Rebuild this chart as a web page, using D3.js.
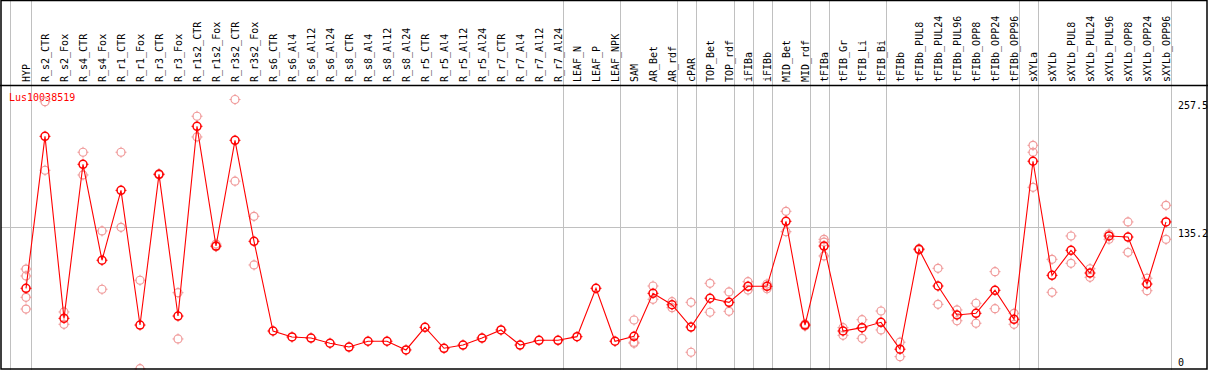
<!DOCTYPE html>
<html>
<head>
<meta charset="utf-8">
<script src="https://cdnjs.cloudflare.com/ajax/libs/d3/7.8.5/d3.min.js"></script>
<style>
  body { margin: 0; background: #fff; }
  text { font-family: "DejaVu Sans Mono", monospace; }
</style>
</head>
<body>
<div class="canvas"></div>
<script>
// gene / samples
const gene = 'Lus10038519';

const categories = [
  'HYP', 'R_s2_CTR', 'R_s2_Fox', 'R_s4_CTR', 'R_s4_Fox', 'R_r1_CTR', 'R_r1_Fox',
  'R_r3_CTR', 'R_r3_Fox', 'R_r1s2_CTR', 'R_r1s2_Fox', 'R_r3s2_CTR', 'R_r3s2_Fox',
  'R_s6_CTR', 'R_s6_Al4', 'R_s6_Al12', 'R_s6_Al24', 'R_s8_CTR', 'R_s8_Al4', 'R_s8_Al12',
  'R_s8_Al24', 'R_r5_CTR', 'R_r5_Al4', 'R_r5_Al12', 'R_r5_Al24', 'R_r7_CTR', 'R_r7_Al4',
  'R_r7_Al12', 'R_r7_Al24', 'LEAF_N', 'LEAF_P', 'LEAF_NPK', 'SAM', 'AR_Bet', 'AR_rdf',
  'cPAR', 'TOP_Bet', 'TOP_rdf', 'iFIBa', 'iFIBb', 'MID_Bet', 'MID_rdf', 'tFIBa',
  'tFIB_Gr', 'tFIB_Li', 'tFIB_Bi', 'tFIBb', 'tFIBb_PUL8', 'tFIBb_PUL24', 'tFIBb_PUL96',
  'tFIBb_OPP8', 'tFIBb_OPP24', 'tFIBb_OPP96', 'sXYLa', 'sXYLb', 'sXYLb_PUL8',
  'sXYLb_PUL24', 'sXYLb_PUL96', 'sXYLb_OPP8', 'sXYLb_OPP24', 'sXYLb_OPP96'
];

// mean expression per sample
const means = [
  77.1, 222.3, 48.4, 195.6, 103.9, 170.7, 42.0,
  186.0, 50.6, 231.9, 117.5, 218.5, 122.0,
  36.3, 30.6, 29.6, 24.6, 21.0, 26.5, 26.5,
  18.2, 39.8, 19.8, 22.9, 29.6, 37.3, 22.9,
  27.4, 27.4, 30.9, 77.1, 26.5, 31.2, 72.3, 61.4,
  40.1, 67.6, 63.7, 79.0, 79.0, 141.1, 42.0, 117.5,
  36.3, 39.5, 44.6, 18.9, 114.4, 79.3, 51.6,
  53.2, 75.2, 47.5, 198.5, 89.5, 113.4,
  91.7, 127.1, 126.1, 81.2, 140.5
];

// replicate values per sample
const replicates = [
  [95.5, 88.9, 68.5, 57.3], [255.4, 189.9], [54.5, 42.7], [207.1, 185.4], [131.9, 76.2],
  [207.1, 135.4], [84.8, 0.3],
  [186.5, 185.5], [72.9, 28.7], [241.5, 221.7], [119.4, 116.9], [257.5, 179.5], [145.9, 99.4],
  [], [], [], [], [], [], [],
  [], [], [], [], [], [], [],
  [], [], [], [], [], [46.8, 25.5, 24.6], [79.3, 66.6], [64.3, 58.6],
  [63.7, 16.0], [81.9, 54.2], [73.6, 55.1], [83.4, 75.5], [81.2, 76.7], [150.7, 131.2],
  [43.0, 41.0], [123.9, 121.3, 108.0],
  [39.5, 32.2], [47.1, 29.3], [55.4, 37.3], [25.6, 11.8], [115.0, 113.8], [96.2, 61.8],
  [56.4, 46.1],
  [62.8, 43.7], [93.0, 57.6], [53.2, 42.7], [213.7, 207.1, 173.6], [104.8, 73.3],
  [127.1, 101.0],
  [95.8, 87.6], [129.0, 124.0], [140.5, 111.5], [86.7, 74.8], [156.4, 123.9]
];

// samples after which a group separator is drawn
const groupEnds = ['HYP', 'R_r7_Al24', 'LEAF_NPK', 'AR_rdf', 'cPAR', 'TOP_rdf', 'iFIBa',
  'iFIBb', 'MID_rdf', 'tFIBa', 'tFIB_Bi', 'tFIBb_OPP96', 'sXYLa', 'sXYLb_OPP96'];

const yTicks = [257.5, 135.2, 0];

const width = 1209, height = 370;
const headerY = 85;

const svg = d3.select('.canvas')
  .append('svg')
  .attr('width', width)
  .attr('height', height);

const x = d3.scalePoint()
  .domain(categories)
  .range([26, 26 + 19 * (categories.length - 1)]);

const y = d3.scaleLinear()
  .domain([0, 257.5])
  .range([369, 99.5]);

// grid
const grid = svg.append('g')
  .attr('stroke', '#c0c0c0')
  .attr('shape-rendering', 'crispEdges');

grid.append('line')
  .attr('x1', x(categories[0]) - 15.5).attr('x2', x(categories[0]) - 15.5)
  .attr('y1', 0).attr('y2', height);

grid.selectAll('.sep')
  .data(groupEnds)
  .enter()
  .append('line')
  .attr('class', 'sep')
  .attr('x1', d => Math.round(x(d) + 4.7) + 0.5)
  .attr('x2', d => Math.round(x(d) + 4.7) + 0.5)
  .attr('y1', 0).attr('y2', height);

grid.append('line')
  .attr('x1', 1).attr('x2', 1177)
  .attr('y1', Math.round(y(135.2)) + 0.5).attr('y2', Math.round(y(135.2)) + 0.5);

// header labels
svg.append('g')
  .selectAll('text')
  .data(categories)
  .enter()
  .append('text')
  .attr('transform', d => `translate(${x(d) + 4}, 82) rotate(-90)`)
  .attr('font-size', 10)
  .attr('fill', '#000')
  .text(d => d);

// y tick labels
svg.append('g')
  .selectAll('text')
  .data(yTicks)
  .enter()
  .append('text')
  .attr('x', 1178)
  .attr('y', d => d === 0 ? y(d) - 3 : y(d) + 9.5)
  .attr('font-size', 10)
  .attr('fill', '#000')
  .text(d => d);

svg.append('text')
  .attr('x', 9)
  .attr('y', 101)
  .attr('font-size', 10)
  .attr('fill', '#ff0000')
  .text(gene);

// markers: open circle with small ticks like the original
function marker(g, cx, cy, color, sw) {
  const r = 4;
  g.append('circle')
    .attr('cx', cx).attr('cy', cy).attr('r', r)
    .attr('fill', 'none').attr('stroke', color).attr('stroke-width', sw);
  [[0, -1], [0, 1], [-1, 0], [1, 0]].forEach(([dx, dy]) => {
    g.append('line')
      .attr('x1', cx + dx * (r - 0.5)).attr('y1', cy + dy * (r - 0.5))
      .attr('x2', cx + dx * (r + 1.5)).attr('y2', cy + dy * (r + 1.5))
      .attr('stroke', color).attr('stroke-width', 1);
  });
}

const plot = svg.append('g');

// replicate points
const repGroup = plot.append('g');
categories.forEach((c, i) => {
  replicates[i].forEach(v => marker(repGroup, x(c), y(v), '#f09a9a', 1.2));
});

// mean line
const line = d3.line()
  .x((d, i) => x(categories[i]))
  .y(d => y(d));

plot.append('path')
  .datum(means)
  .attr('d', line)
  .attr('fill', 'none')
  .attr('stroke', '#ff0000')
  .attr('stroke-width', 1.1);

const meanGroup = plot.append('g');
means.forEach((v, i) => marker(meanGroup, x(categories[i]), y(v), '#ff0000', 1.5));

// frame
svg.append('line')
  .attr('x1', 0).attr('x2', width)
  .attr('y1', headerY + 0.5).attr('y2', headerY + 0.5)
  .attr('stroke', '#000').attr('stroke-width', 1.5);

svg.append('rect')
  .attr('x', 1).attr('y', 0.5)
  .attr('width', 1206).attr('height', 368.5)
  .attr('fill', 'none')
  .attr('stroke', '#000')
  .attr('stroke-width', 1.5);

// white-out anything past the right border (labels are clipped there)
svg.append('rect')
  .attr('x', 1208).attr('y', 0).attr('width', 2).attr('height', height)
  .attr('fill', '#fff');
</script>
</body>
</html>
